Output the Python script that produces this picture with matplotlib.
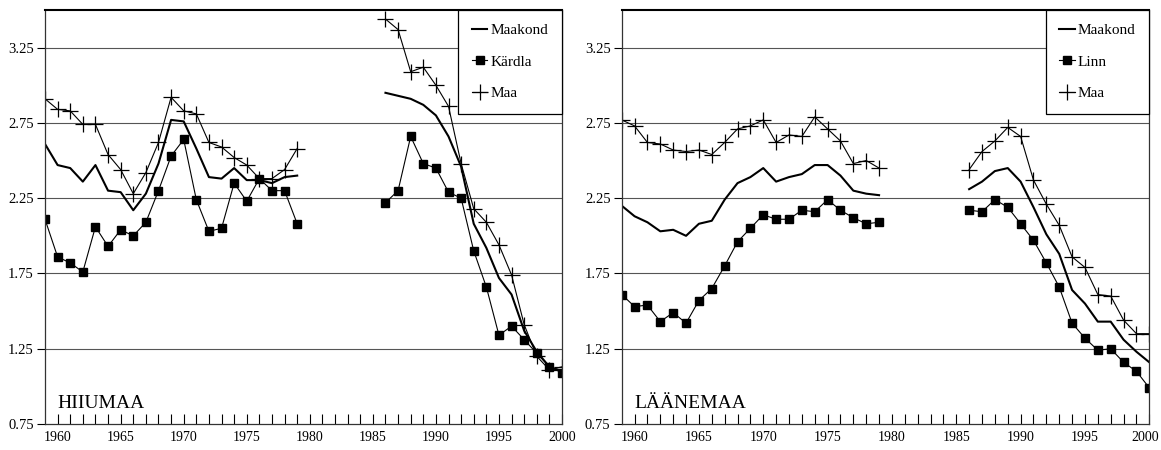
import numpy as np
import matplotlib
matplotlib.use('Agg')
from matplotlib import pyplot as plt
from matplotlib.transforms import ScaledTranslation

plt.rcParams['font.family'] = ['Liberation Serif', 'DejaVu Serif']

# years: two blocks with a gap 1980-1985
years_a = list(range(1959, 1980))
years_b = list(range(1986, 2001))

# HIIUMAA
hiiu_maakond_a = [2.61, 2.47, 2.45, 2.36, 2.47, 2.30, 2.29, 2.17, 2.28, 2.48, 2.77,
                  2.76, 2.58, 2.39, 2.38, 2.45, 2.37, 2.37, 2.35, 2.39, 2.40]
hiiu_maakond_b = [2.95, 2.93, 2.91, 2.87, 2.80, 2.66, 2.46, 2.08, 1.92, 1.72, 1.61,
                  1.37, 1.23, 1.13, 1.10]
hiiu_linn_a = [2.11, 1.86, 1.82, 1.76, 2.06, 1.93, 2.04, 2.00, 2.09, 2.30, 2.53,
               2.64, 2.24, 2.03, 2.05, 2.35, 2.23, 2.38, 2.30, 2.30, 2.08]
hiiu_linn_b = [2.22, 2.30, 2.66, 2.48, 2.45, 2.29, 2.25, 1.90, 1.66, 1.34, 1.40,
               1.31, 1.22, 1.13, 1.09]
hiiu_maa_a = [2.91, 2.84, 2.83, 2.74, 2.74, 2.54, 2.44, 2.28, 2.42, 2.62, 2.92,
              2.83, 2.81, 2.62, 2.59, 2.52, 2.47, 2.38, 2.38, 2.44, 2.58]
hiiu_maa_b = [3.44, 3.37, 3.09, 3.12, 3.00, 2.86, 2.48, 2.18, 2.09, 1.94, 1.74,
              1.41, 1.20, 1.11, 1.13]

# LÄÄNEMAA
laane_maakond_a = [2.20, 2.13, 2.09, 2.03, 2.04, 2.00, 2.08, 2.10, 2.24, 2.35, 2.39,
                   2.45, 2.36, 2.39, 2.41, 2.47, 2.47, 2.40, 2.30, 2.28, 2.27]
laane_maakond_b = [2.31, 2.36, 2.43, 2.45, 2.36, 2.19, 2.01, 1.88, 1.64, 1.55, 1.43,
                   1.43, 1.31, 1.23, 1.16]
laane_linn_a = [1.61, 1.53, 1.54, 1.43, 1.49, 1.42, 1.57, 1.65, 1.80, 1.96, 2.05,
                2.14, 2.11, 2.11, 2.17, 2.16, 2.24, 2.17, 2.12, 2.08, 2.09]
laane_linn_b = [2.17, 2.16, 2.24, 2.19, 2.08, 1.97, 1.82, 1.66, 1.42, 1.32, 1.24,
                1.25, 1.16, 1.10, 0.99]
laane_maa_a = [2.77, 2.73, 2.62, 2.61, 2.57, 2.56, 2.57, 2.54, 2.62, 2.71, 2.73,
               2.77, 2.62, 2.67, 2.66, 2.79, 2.71, 2.63, 2.48, 2.50, 2.45]
laane_maa_b = [2.44, 2.56, 2.63, 2.72, 2.66, 2.37, 2.21, 2.07, 1.86, 1.79, 1.61,
               1.60, 1.44, 1.35, 1.35]

yticks = [0.75, 1.25, 1.75, 2.25, 2.75, 3.25]


def join(a, b):
    # glue the two blocks together with a break in between
    x = years_a + [1982] + years_b
    y = list(a) + [np.nan] + list(b)
    return x, y


def panel(ax, maakond, linn, maa, linn_name, title):
    x, y = join(*maakond)
    ax.plot(x, y, color='black', lw=1.5, label='Maakond')
    x, y = join(*linn)
    ax.plot(x, y, color='black', lw=0.8, marker='s', ms=6, label=linn_name)
    x, y = join(*maa)
    ax.plot(x, y, color='black', lw=0.8, marker='+', ms=11, mew=0.9, label='Maa')

    ax.set_xlim(1959, 2000)
    ax.set_ylim(0.75, 3.5)
    ax.set_yticks(yticks)
    ax.set_yticklabels(['%.2f' % v for v in yticks])
    ax.set_xticks(range(1960, 2001))
    ax.set_xticklabels([str(v) if v % 5 == 0 else '' for v in range(1960, 2001)])
    ax.tick_params(axis='x', direction='in', length=7, width=0.8, pad=5, labelsize=10)
    ax.tick_params(axis='y', direction='out', length=6, width=0.8, pad=2, labelsize=10.5)
    for v in yticks[1:]:
        ax.axhline(v, color='#555555', lw=0.8, zorder=0)
    for side in ['left', 'right', 'bottom']:
        ax.spines[side].set_color('#333333')
        ax.spines[side].set_linewidth(0.9)
    ax.spines['top'].set_linewidth(1.5)
    ax.text(1960, 0.855, title, fontsize=14, va='baseline', ha='left')

    leg = ax.legend(loc='upper right', borderaxespad=0, fancybox=False, fontsize=11,
                    handlelength=1.0, handletextpad=0.2, labelspacing=1.15,
                    borderpad=0.9, framealpha=1)
    leg.get_frame().set_edgecolor('black')
    leg.get_frame().set_linewidth(0.9)


fig = plt.figure(figsize=(11.61, 4.5), dpi=100)
ax1 = fig.add_axes([45 / 1161, 26 / 450, 517 / 1161, 414 / 450])
ax2 = fig.add_axes([621.7 / 1161, 26 / 450, 527.6 / 1161, 414 / 450])

panel(ax1, (hiiu_maakond_a, hiiu_maakond_b), (hiiu_linn_a, hiiu_linn_b),
      (hiiu_maa_a, hiiu_maa_b), 'Kärdla', 'HIIUMAA')
panel(ax2, (laane_maakond_a, laane_maakond_b), (laane_linn_a, laane_linn_b),
      (laane_maa_a, laane_maa_b), 'Linn', 'LÄÄNEMAA')

# last label on the right sits at the figure edge, nudge it inside
last = ax2.get_xticklabels()[-1]
last.set_transform(last.get_transform() + ScaledTranslation(-4 / 100, 0, fig.dpi_scale_trans))

fig.savefig('out.png', dpi=100)
